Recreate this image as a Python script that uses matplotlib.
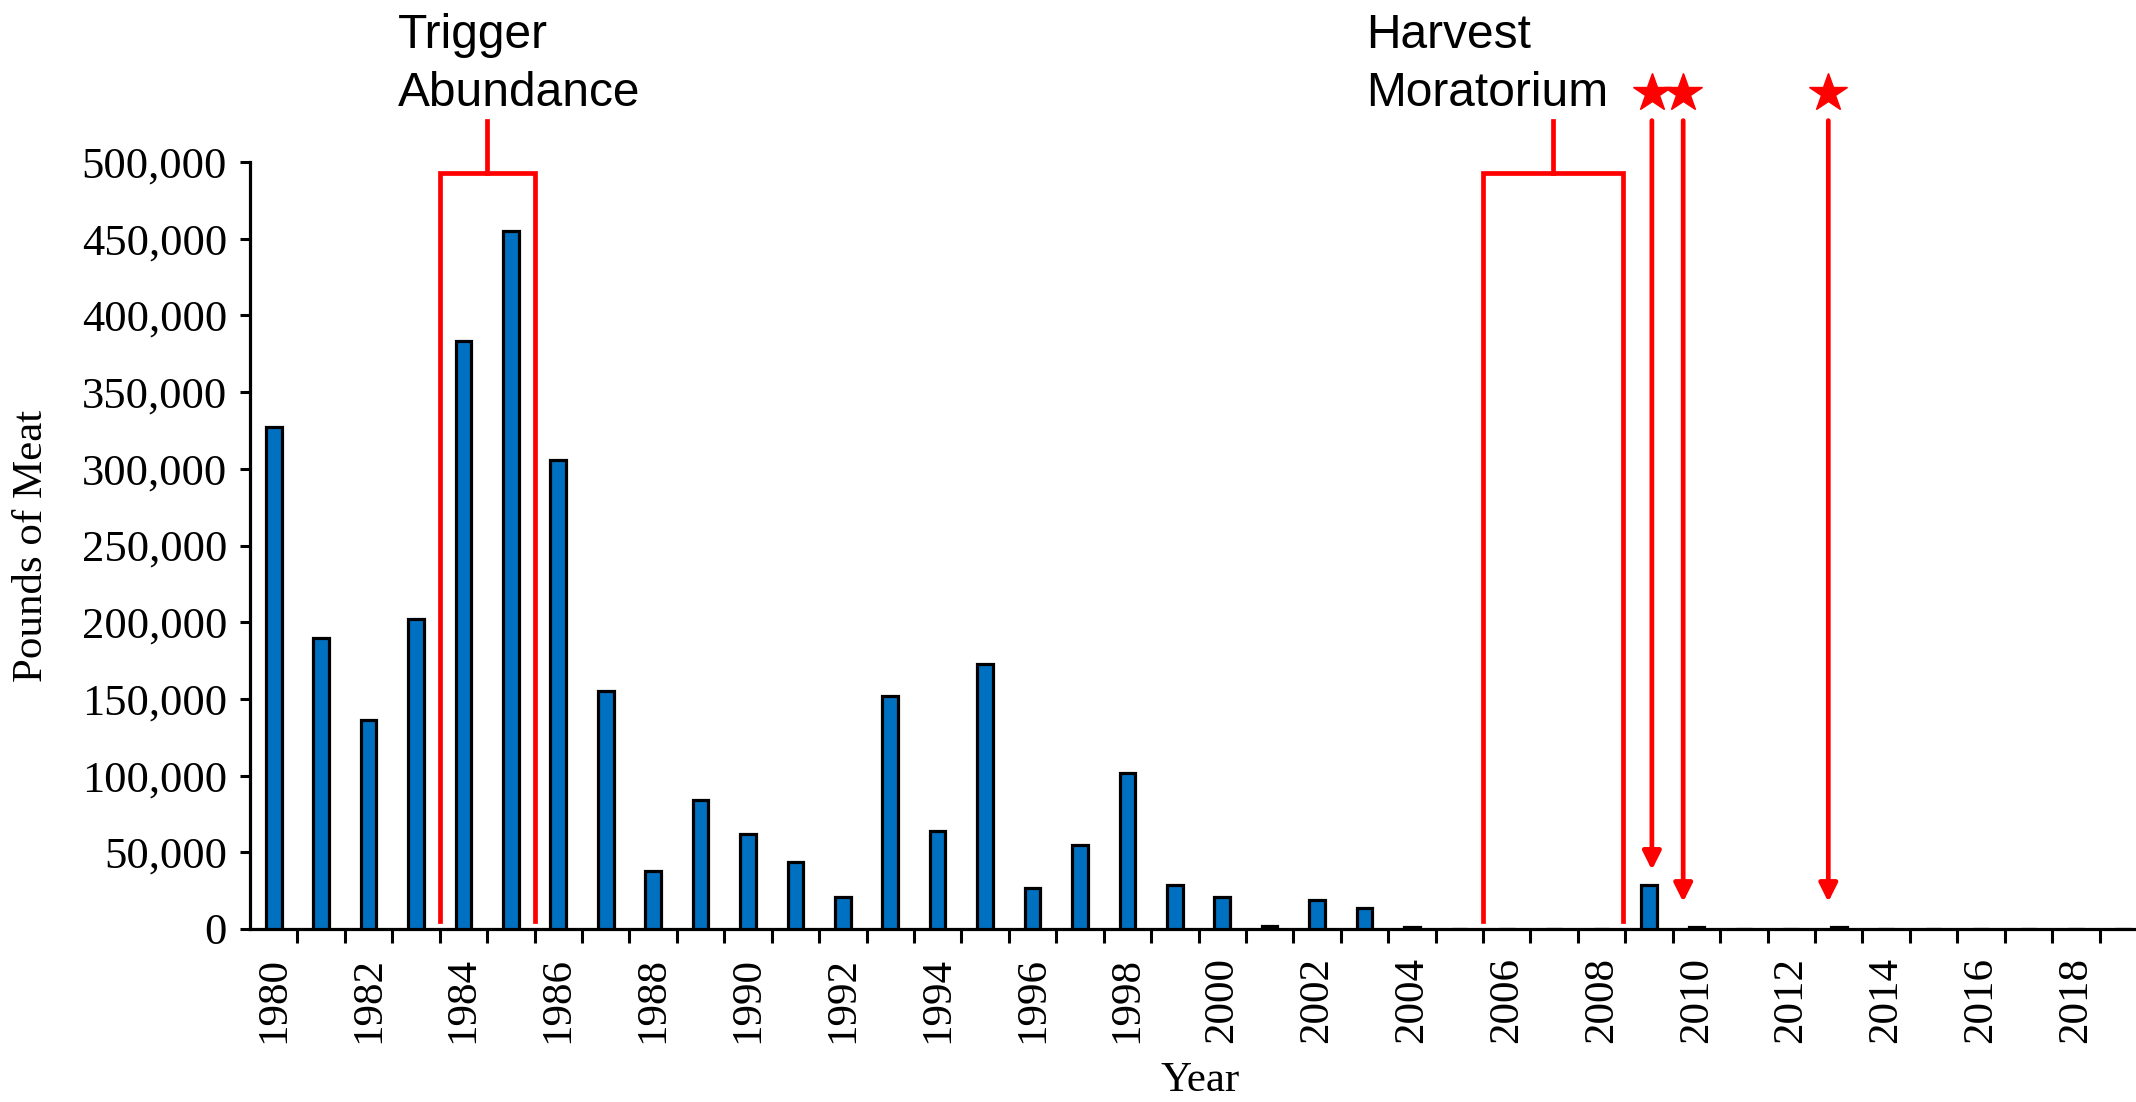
import matplotlib
matplotlib.use('Agg')
import matplotlib.pyplot as plt
import numpy as np

years = list(range(1980, 2020))
pounds = [327000, 190000, 136000, 202000, 383000, 455000, 306000, 155000,
          38000, 84000, 62000, 44000, 21000, 152000, 64000, 173000,
          27000, 55000, 102000, 29000, 21000, 2000, 19000, 14000, 1000,
          0, 0, 0, 0, 29000, 1000, 0, 0, 1000, 0, 0, 0, 0, 0, 0]
tick_labels = [str(y) if y % 2 == 0 else '' for y in years]

# bracketed periods (first and last year inside) and star years
trigger_years = (1984, 1985)
moratorium_years = (2006, 2008)
star_years = [2009, 2010, 2013]
arrow_tips = [38500, 17600, 17600]

RED = '#FF0000'
plt.rcParams['font.family'] = ['Liberation Serif', 'DejaVu Serif']


def idx(year):
    return years.index(year)


def main():
    fig = plt.figure(figsize=(21.36, 11.02), dpi=100)
    ax = fig.add_axes([250 / 2136, 173 / 1102, 1897 / 2136, 767 / 1102])

    x = np.arange(len(years))
    ax.bar(x, pounds, width=0.33, color='#0070C0', edgecolor='black', linewidth=2.3, zorder=3)

    ax.set_xlim(-0.5, len(years) - 0.5)
    ax.set_ylim(0, 500000)
    ax.set_yticks(np.arange(0, 500001, 50000))
    ax.set_yticklabels(['{:,}'.format(v) for v in range(0, 500001, 50000)], fontsize=32)
    ax.set_xticks(x)
    ax.set_xticklabels(tick_labels, rotation=90, fontsize=31)
    ax.set_xticks(x[:-1] + 0.5, minor=True)
    ax.tick_params(axis='x', which='major', length=0, pad=20)
    ax.tick_params(axis='x', which='minor', length=10, width=2.2, direction='out')
    ax.tick_params(axis='y', length=7.5, width=2.2, direction='out', pad=9)
    for s in ['top', 'right']:
        ax.spines[s].set_visible(False)
    for s in ['left', 'bottom']:
        ax.spines[s].set_linewidth(2.3)

    fig.text(32 / 2136, 556 / 1102, 'Pounds of Meat', fontsize=31, rotation=90,
             ha='center', va='center')
    fig.text(1200 / 2136, 21 / 1102, 'Year', fontsize=31, ha='center', va='center')

    lw = 3.4
    # brackets
    for (a, b), shift in [(trigger_years, 0.5), (moratorium_years, 0.45)]:
        left = idx(a) - 0.5
        right = idx(b) + shift
        mid = (left + right) / 2
        ax.plot([left, left, right, right], [5000, 493000, 493000, 5000],
                color=RED, lw=lw, clip_on=False, zorder=4, solid_joinstyle='miter')
        ax.plot([mid, mid], [493000, 527000], color=RED, lw=lw, clip_on=False, zorder=4)

    ax.text(idx(trigger_years[0]) - 1.38, 597000, 'Trigger\nAbundance', family='Liberation Sans',
            fontsize=34.5, ha='left', va='top', linespacing=1.37)
    ax.text(idx(moratorium_years[0]) - 2.96, 597000, 'Harvest\nMoratorium', family='Liberation Sans',
            fontsize=34.5, ha='left', va='top', linespacing=1.37)

    # stars with arrows
    offsets = [0.06, -0.28, -0.22]
    for yr, tip, off in zip(star_years, arrow_tips, offsets):
        xs = idx(yr) + off
        ax.plot([xs], [545000], marker='*', color=RED, markersize=29, clip_on=False, zorder=5)
        ax.annotate('', xy=(xs, tip), xytext=(xs, 527000), annotation_clip=False,
                    arrowprops=dict(arrowstyle='-|>,head_length=1.1,head_width=0.55',
                                    color=RED, lw=lw, shrinkA=0, shrinkB=0))

    fig.savefig('out.png', dpi=100)


if __name__ == '__main__':
    main()
